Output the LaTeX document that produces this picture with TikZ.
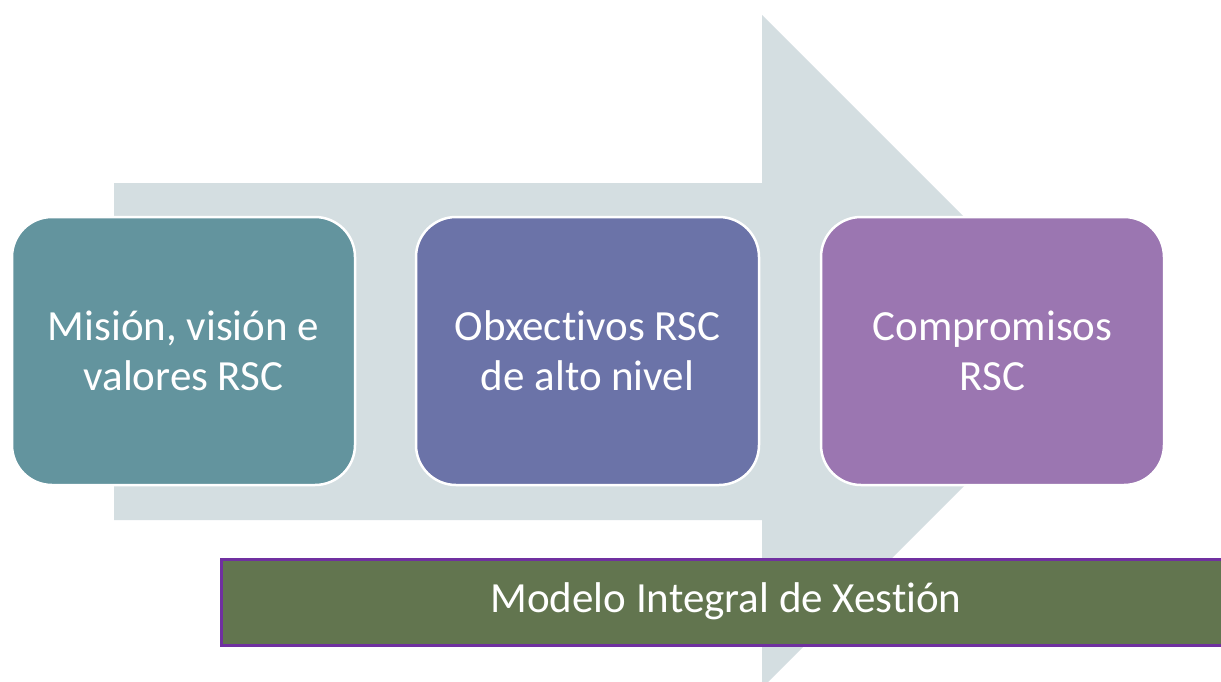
\documentclass[tikz,border=0pt]{standalone}
\usepackage{fontspec}
\setmainfont[Ligatures={NoCommon}]{Carlito}
\definecolor{arrowc}{HTML}{D4DEE1}
\definecolor{tealc}{HTML}{63949E}
\definecolor{bluec}{HTML}{6B73A8}
\definecolor{purpc}{HTML}{9B76B1}
\definecolor{greenc}{HTML}{62754F}
\definecolor{borderc}{HTML}{7030A0}
\begin{document}
\begin{tikzpicture}[x=1pt,y=-1pt,
  stagebox/.style={draw=white,line width=2.5pt,rounded corners=40pt,text=white,
    minimum width=343pt,minimum height=268pt,align=center,inner sep=0pt,
    font=\fontsize{43}{50}\selectfont},
  barbox/.style={draw=borderc,fill=greenc,line width=3pt,text=white,
    font=\fontsize{43}{50}\selectfont}]
\useasboundingbox (0,0) rectangle (1221,681);
\fill[white] (0,0) rectangle (1221,681);
\begin{scope}
\clip (0,0) rectangle (1221,681);
\fill[arrowc] (114,183) -- (762,183) -- (762,15) -- (1098.5,351.5) -- (762,688) -- (762,520) -- (114,520) -- cycle;
\end{scope}
\node[stagebox,fill=tealc] (s1) at (183.5,351) {Misión, visión e\\valores RSC};
\node[stagebox,fill=bluec] (s2) at (587.5,351) {Obxectivos RSC\\de alto nivel};
\node[stagebox,fill=purpc] (s3) at (992.5,351) {Compromisos\\RSC};
\begin{scope}
\clip (0,0) rectangle (1221,681);
\draw[barbox] (221,559.5) rectangle (1225,645.5);
\end{scope}
\node[text=white,font=\fontsize{43}{50}\selectfont] (bar) at (726,601) {Modelo Integral de Xestión};
\end{tikzpicture}
\end{document}
